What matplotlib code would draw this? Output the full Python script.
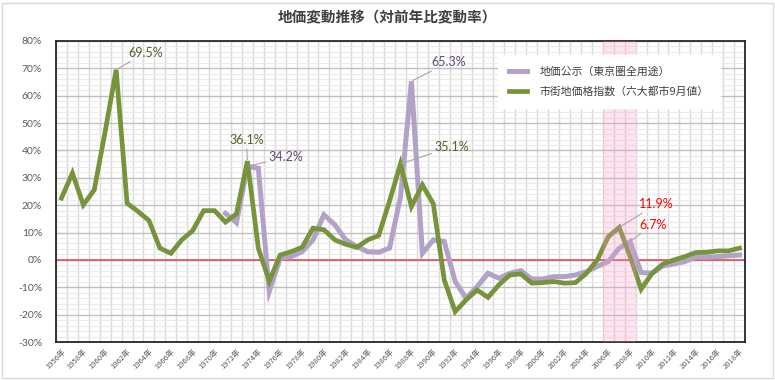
import matplotlib
matplotlib.use("Agg")
import matplotlib.pyplot as plt
from matplotlib.patches import Rectangle
import numpy as np

# data
years = list(range(1956, 2019))
shigaichi = [22.6, 31.7, 20.1, 25.6, 47.0, 69.5, 20.7, 17.7, 14.4, 4.3,
             2.4, 7.3, 10.7, 18.0, 18.0, 13.8, 16.8, 36.1, 4.3, -7.8,
             1.8, 3.0, 4.6, 11.6, 11.0, 7.3, 5.7, 4.6, 7.3, 8.9,
             21.5, 35.1, 19.5, 27.4, 20.5, -7.3, -18.9, -14.6, -11.0, -13.7,
             -9.1, -5.5, -5.1, -8.5, -8.3, -7.9, -8.5, -8.3, -4.9, 0.0,
             8.5, 11.9, 1.2, -10.7, -4.9, -1.5, 0.0, 1.2, 2.7, 2.8,
             3.3, 3.3, 4.3]
koji = [np.nan] * 15 + [
    17.0, 13.6, 34.2, 33.5, -11.5, 0.6, 1.2, 3.0, 7.3, 16.5,
    12.8, 7.3, 4.9, 3.0, 2.8, 4.3, 23.0, 65.3, 2.4, 7.3,
    6.7, -7.9, -14.0, -9.8, -4.9, -6.7, -4.9, -3.9, -7.0, -7.0,
    -6.1, -6.1, -5.5, -4.3, -2.4, -0.6, 4.3, 6.7, -4.6, -4.9,
    -2.2, -1.5, -0.6, 1.0, 1.0, 1.2, 1.5, 1.8]
xlabels = [f"{y}年" for y in years]
band_years = (2006, 2008)

title = "地価変動推移（対前年比変動率）"
label_koji = "地価公示（東京圏全用途）"
label_shigaichi = "市街地価格指数（六大都市9月値）"

green = "#77933C"
purple = "#B3A2C7"

plt.rcParams['font.family'] = ['Noto Sans CJK JP', 'DejaVu Sans']

fig = plt.figure(figsize=(7.75, 3.8), dpi=100)
ax = fig.add_axes([56 / 775, 1 - 342 / 380, 689 / 775, 301 / 380])

x = np.arange(len(years))
ax.plot(x, koji, color=purple, lw=3.6, solid_joinstyle='miter', zorder=3, label=label_koji)
ax.plot(x, shigaichi, color=green, lw=3.4, solid_joinstyle='miter', zorder=4, label=label_shigaichi)
ax.axhline(0, color="#E8404A", lw=1.1, zorder=2.5)

b0 = years.index(band_years[0]) - 0.5
b1 = years.index(band_years[1]) + 0.5
ax.axvspan(b0, b1, color="#FF99CC", alpha=0.25, lw=0, zorder=5)

ax.set_xlim(-0.5, len(years) - 0.5)
ax.set_ylim(-30, 80)
ax.set_yticks(np.arange(-30, 81, 10))
ax.set_yticklabels([f"{v}%" for v in range(-30, 81, 10)], fontsize=7.5, color="#595959",
                   family=['Lato', 'DejaVu Sans'])
ax.set_yticks(np.arange(-30, 81, 2), minor=True)
ax.set_xticks(x[::2])
ax.set_xticklabels(xlabels[::2], rotation=45, ha='right', rotation_mode='anchor',
                   fontsize=5.5, color="#595959")
ax.set_xticks(np.arange(-0.5, len(years), 1), minor=True)
ax.tick_params(which='both', length=0)
ax.tick_params(axis='x', pad=4)
ax.tick_params(axis='y', pad=10)

ax.grid(axis='x', which='minor', color="#d9d9d9", lw=1.0, zorder=0)
ax.grid(axis='y', which='minor', color="#ebebeb", lw=0.8, zorder=0)
ax.grid(axis='y', which='major', color="#bfbfbf", lw=1.0, zorder=1)
ax.set_axisbelow(True)
for s in ax.spines.values():
    s.set_color("#262626")
    s.set_linewidth(1.3)

ann = dict(textcoords='offset pixels', va='center', fontsize=9, family=['Lato', 'DejaVu Sans'],
           arrowprops=dict(arrowstyle='-', color="#a6a6a6", lw=0.8, shrinkA=0, shrinkB=1),
           zorder=6)
ax.annotate("69.5%", (5, 69.5), xytext=(12, 17), ha='left', color="#4F6228", **ann)
ax.annotate("36.1%", (17, 36.1), xytext=(-1, 21), ha='center', color="#4F6228", **ann)
ax.annotate("34.2%", (17, 34.2), xytext=(21, 9), ha='left', color="#604A7B", **ann)
ax.annotate("65.3%", (32, 65.3), xytext=(20, 19), ha='left', color="#604A7B", **ann)
ax.annotate("35.1%", (31, 35.1), xytext=(34, 17), ha='left', color="#4F6228", **ann)
ax.annotate("11.9%", (51, 11.9), xytext=(20, 23), ha='left', color="#FF0000", **ann)
ax.annotate("6.7%", (52, 6.7), xytext=(9, 17), ha='left', color="#FF0000", **ann)

leg = ax.legend(loc='upper right', bbox_to_anchor=(0.971, 0.97), fontsize=7.8,
                frameon=True, fancybox=False, framealpha=1, edgecolor='white',
                handlelength=1.6, labelspacing=0.9, borderpad=1.0, handletextpad=1.2)
leg.set_zorder(7)
for t in leg.get_texts():
    t.set_color("#404040")

fig.text(0.5, 1 - 17 / 380, title, ha='center', va='center', fontsize=10.5,
         fontweight='bold', color="#404040")
fig.patches.append(Rectangle((2 / 775, 2 / 380), 771 / 775, 375 / 380, transform=fig.transFigure,
                             fill=False, edgecolor="#d9d9d9", lw=1))

plt.savefig("out.png", dpi=100)
plt.close()
